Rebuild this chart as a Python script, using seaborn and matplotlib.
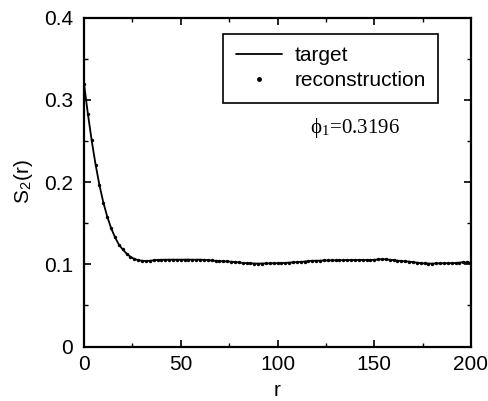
import numpy as np
import pandas as pd
import matplotlib
matplotlib.use("Agg")
import matplotlib.pyplot as plt
import seaborn as sns
from matplotlib.lines import Line2D
from matplotlib.legend_handler import HandlerLine2D
from matplotlib.ticker import MultipleLocator

# distances r (pixels), sampled every 2
r = list(range(0, 202, 2))

# two-point correlation S2(r)
s2_target = [
    0.3196, 0.283, 0.250, 0.221, 0.196, 0.175, 0.158, 0.144, 0.133, 0.124,
    0.118, 0.113, 0.109, 0.1065, 0.1050, 0.1042, 0.1040, 0.1042, 0.1048, 0.1052,
    0.1054, 0.1055, 0.1055, 0.1056, 0.1055, 0.1055, 0.1056, 0.1056, 0.1055, 0.1055,
    0.1056, 0.1053, 0.1050, 0.1046, 0.1042, 0.1039, 0.1036, 0.1034, 0.1031, 0.1027,
    0.1022, 0.1017, 0.1013, 0.1010, 0.1009, 0.1008, 0.1009, 0.1010, 0.1011, 0.1012,
    0.1013, 0.1014, 0.1017, 0.1020, 0.1023, 0.1026, 0.1028, 0.1033, 0.1039, 0.1042,
    0.1043, 0.1044, 0.1046, 0.1047, 0.1048, 0.1048, 0.1049, 0.1050, 0.1050, 0.1051,
    0.1051, 0.1052, 0.1052, 0.1052, 0.1053, 0.1054, 0.1058, 0.1062, 0.1060, 0.1055,
    0.1050, 0.1044, 0.1040, 0.1035, 0.1032, 0.1026, 0.1020, 0.1014, 0.1010, 0.1009,
    0.1008, 0.1010, 0.1011, 0.1012, 0.1012, 0.1013, 0.1015, 0.1020, 0.1024, 0.1022,
    0.1020,
]
s2_recon = [
    0.3196, 0.283, 0.251, 0.221, 0.196, 0.175, 0.158, 0.144, 0.133, 0.124,
    0.118, 0.113, 0.109, 0.1065, 0.1050, 0.1042, 0.1040, 0.1042, 0.1048, 0.1052,
    0.1054, 0.1055, 0.1055, 0.1056, 0.1055, 0.1055, 0.1056, 0.1056, 0.1055, 0.1055,
    0.1056, 0.1053, 0.1050, 0.1046, 0.1042, 0.1039, 0.1036, 0.1034, 0.1031, 0.1027,
    0.1022, 0.1017, 0.1013, 0.1010, 0.1009, 0.1008, 0.1009, 0.1010, 0.1011, 0.1012,
    0.1013, 0.1014, 0.1017, 0.1020, 0.1023, 0.1026, 0.1028, 0.1033, 0.1039, 0.1042,
    0.1043, 0.1044, 0.1046, 0.1047, 0.1048, 0.1048, 0.1049, 0.1050, 0.1050, 0.1051,
    0.1051, 0.1052, 0.1052, 0.1052, 0.1053, 0.1054, 0.1058, 0.1062, 0.1060, 0.1055,
    0.1050, 0.1044, 0.1040, 0.1035, 0.1032, 0.1026, 0.1020, 0.1014, 0.1010, 0.1009,
    0.1008, 0.1010, 0.1011, 0.1012, 0.1012, 0.1013, 0.1015, 0.1020, 0.1024, 0.1022,
    0.1020,
]

x_ticks = [0, 50, 100, 150, 200]
y_ticks = [0, 0.1, 0.2, 0.3, 0.4]
y_tick_labels = ["0", "0.1", "0.2", "0.3", "0.4"]
phi_text = "ϕ$_\\mathregular{1}$=0.3196"

sns.set_theme(style="ticks")
plt.rcParams["font.family"] = ["Liberation Sans", "DejaVu Sans"]
plt.rcParams["mathtext.fontset"] = "stix"
plt.rcParams["text.color"] = "black"
plt.rcParams["axes.labelcolor"] = "black"
plt.rcParams["xtick.color"] = "black"
plt.rcParams["ytick.color"] = "black"


# legend handler that puts the dot at the right end of the handle
class RightDot(HandlerLine2D):
    def get_xdata(self, legend, xdescent, ydescent, width, height, fontsize):
        xdata, _ = super().get_xdata(legend, xdescent, ydescent, width, height, fontsize)
        return xdata, np.array([xdata[-1]])


df = pd.DataFrame({"r": r, "target": s2_target, "recon": s2_recon})

fig = plt.figure(figsize=(4.88, 4.01), dpi=100)
ax = fig.add_axes([84 / 488, 1 - 346.5 / 401, 387 / 488, 329 / 401])

sns.lineplot(data=df, x="r", y="target", color="black", linewidth=1.3, ax=ax)
sns.scatterplot(data=df, x="r", y="recon", color="black", s=6, linewidth=0, ax=ax)

ax.set_xlim(0, 200)
ax.set_ylim(0, 0.4)
ax.set_xticks(x_ticks)
ax.set_yticks(y_ticks)
ax.set_yticklabels(y_tick_labels)
ax.xaxis.set_minor_locator(MultipleLocator(25))
ax.yaxis.set_minor_locator(MultipleLocator(0.05))
ax.tick_params(which="both", direction="in", top=True, right=True, color="black")
ax.tick_params(which="major", length=5, width=1.2, labelsize=15, labelcolor="black")
ax.tick_params(which="minor", length=3, width=1.0)
ax.tick_params(axis="x", pad=6)
ax.tick_params(axis="y", pad=8)
for sp in ax.spines.values():
    sp.set_linewidth(1.6)
    sp.set_color("black")

ax.set_xlabel("r", fontsize=15, labelpad=5)
ax.set_ylabel(r"S$_\mathregular{2}$(r)", fontsize=15, labelpad=6)

ax.text(140, 0.2655, phi_text, ha="center", va="center", fontsize=15,
        family=["Liberation Serif", "DejaVu Serif"], color="black")

h_target = Line2D([], [], color="black", linewidth=1.3)
h_recon = Line2D([], [], color="black", linestyle="none", marker="o", markersize=2.5)
leg = ax.legend([h_target, h_recon], ["target", "reconstruction"],
                loc="upper right", bbox_to_anchor=(0.915, 0.95), borderaxespad=0,
                fontsize=15, frameon=True, fancybox=False, framealpha=1,
                edgecolor="black", handlelength=2.2, handletextpad=0.6,
                labelspacing=0.28, borderpad=0.6,
                handler_map={h_recon: RightDot(numpoints=1)})
leg.get_frame().set_linewidth(1.2)
for t in leg.get_texts():
    t.set_color("black")

fig.savefig("out.png", dpi=100)
